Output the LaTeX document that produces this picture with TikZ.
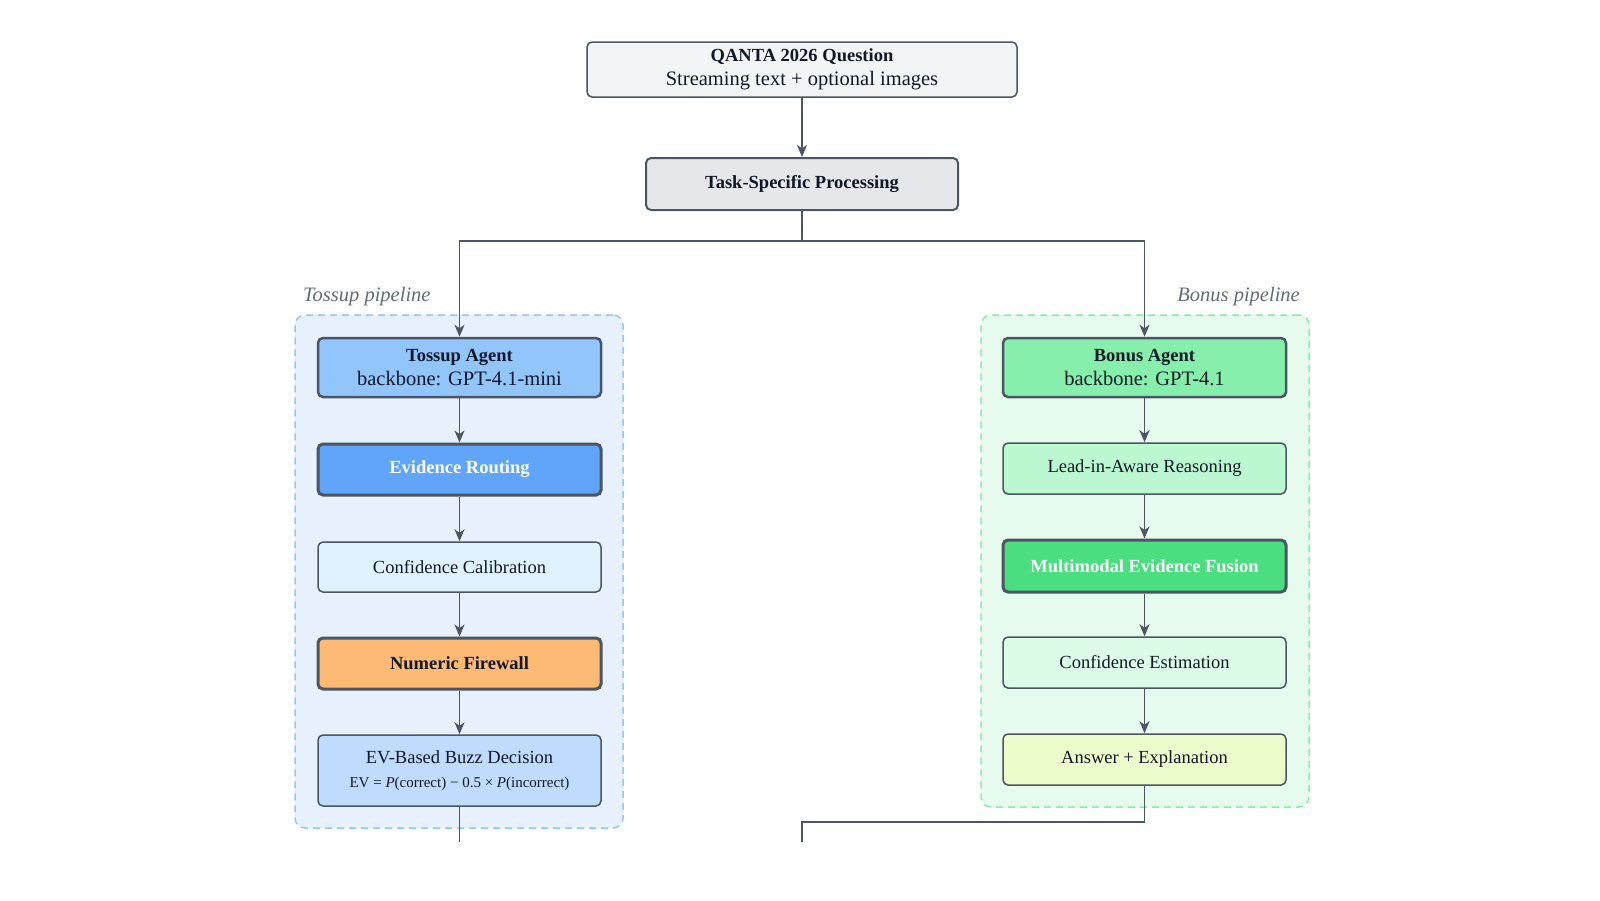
\documentclass[tikz,border=0pt]{standalone}
\usepackage{fontspec}
\setmainfont{Liberation Serif}
\usetikzlibrary{arrows.meta}
\definecolor{edgec}{HTML}{4B5563}
\definecolor{labc}{HTML}{636B76}
\definecolor{textc}{HTML}{111827}
\definecolor{qfill}{HTML}{F3F4F6}
\definecolor{tfill}{HTML}{E5E7EB}
\definecolor{tossbg}{HTML}{E7F0FD}
\definecolor{tossdash}{HTML}{93C5FD}
\definecolor{bonbg}{HTML}{E6FBEE}
\definecolor{bondash}{HTML}{86EFAC}
\definecolor{blueA}{HTML}{93C5FD}
\definecolor{blueB}{HTML}{60A5FA}
\definecolor{blueC}{HTML}{E0F2FE}
\definecolor{blueD}{HTML}{BFDBFE}
\definecolor{orangeA}{HTML}{FDBA74}
\definecolor{greenA}{HTML}{86EFAC}
\definecolor{greenB}{HTML}{BBF7D0}
\definecolor{greenC}{HTML}{4ADE80}
\definecolor{greenD}{HTML}{DCFCE7}
\definecolor{limeA}{HTML}{ECFCCB}
\begin{document}
\begin{tikzpicture}[x=1pt,y=-1pt,
  box/.style={draw=edgec, line width=1.5pt, rounded corners=5pt, minimum width=283pt,
    minimum height=50pt, align=center, text=textc, inner sep=2pt,
    font=\fontsize{18.5}{23.5}\selectfont},
  agentbox/.style={box, line width=2.5pt, minimum height=59pt},
  hotbox/.style={box, line width=3pt, text=white, font=\fontsize{18.5}{23.5}\selectfont\bfseries},
  container/.style={line width=1.5pt, dash pattern=on 7pt off 5pt, rounded corners=10pt, minimum width=328pt},
  plabel/.style={text=labc, font=\fontsize{20.5}{24}\selectfont\itshape, inner sep=0pt},
  conn/.style={draw=edgec, line width=1.6pt},
  arr/.style={conn, -{Stealth[length=12pt,width=10pt,inset=3.5pt]}}
]
\useasboundingbox (0,0) rectangle (1600,900);

% containers
\node[container, draw=tossdash, fill=tossbg, minimum height=513pt] (tosscont) at (459,571.5) {};
\node[container, draw=bondash, fill=bonbg, minimum height=492pt] (boncont) at (1145,561) {};
\node[plabel, anchor=base west] (tosslab) at (303,301) {Tossup pipeline};
\node[plabel, anchor=base east] (bonlab) at (1300,301) {Bonus pipeline};

% top
\node[box, fill=qfill, minimum width=430pt, minimum height=55pt] (q) at (802,69.5)
  {{\bfseries QANTA 2026 Question}\\{\fontsize{20.5}{23.5}\selectfont Streaming text + optional images}};
\node[box, line width=2pt, fill=tfill, minimum width=312pt, minimum height=52pt, font=\fontsize{18.5}{23.5}\selectfont\bfseries] (task) at (802,184) {Task-Specific Processing};

% tossup column
\node[agentbox, fill=blueA] (tagent) at (459.5,367.5)
  {{\bfseries Tossup Agent}\\{\fontsize{20.5}{23.5}\selectfont backbone: GPT-4.1-mini}};
\node[hotbox, fill=blueB, minimum height=51pt] (evr) at (459.5,469.5) {Evidence Routing};
\node[box, fill=blueC] (cal) at (459.5,567) {Confidence Calibration};
\node[hotbox, fill=orangeA, text=textc, minimum height=51pt] (fw) at (459.5,663.5) {Numeric Firewall};
\node[box, fill=blueD, minimum height=71pt, font=\fontsize{18.5}{22}\selectfont] (ev) at (459.5,770.5)
  {EV-Based Buzz Decision\\[2pt]{\fontsize{15}{18}\selectfont EV = \textit{P}(correct) − 0.5 × \textit{P}(incorrect)}};

% bonus column
\node[agentbox, fill=greenA] (bagent) at (1144.5,367.5)
  {{\bfseries Bonus Agent}\\{\fontsize{20.5}{23.5}\selectfont backbone: GPT-4.1}};
\node[box, fill=greenB, minimum height=51pt] (lead) at (1144.5,468.5) {Lead-in-Aware Reasoning};
\node[hotbox, fill=greenC, minimum height=52pt] (mm) at (1144.5,566) {Multimodal Evidence Fusion};
\node[box, fill=greenD, minimum height=51pt] (cest) at (1144.5,662.5) {Confidence Estimation};
\node[box, fill=limeA, minimum height=51pt] (ans) at (1144.5,759.5) {Answer + Explanation};

% connectors
\coordinate (split) at (802,241);
\coordinate (tend) at (459.5,842);
\coordinate (bturn) at (802,822);
\coordinate (bend) at (802,842);
\draw[arr] (q) -- (task);
\draw[conn] (task.south) -- (split);
\draw[arr] (split) -| (tagent.north);
\draw[arr] (split) -| (bagent.north);
\draw[arr] (tagent) -- (evr);
\draw[arr] (evr) -- (cal);
\draw[arr] (cal) -- (fw);
\draw[arr] (fw) -- (ev);
\draw[conn] (ev.south) -- (tend);
\draw[arr] (bagent) -- (lead);
\draw[arr] (lead) -- (mm);
\draw[arr] (mm) -- (cest);
\draw[arr] (cest) -- (ans);
\draw[conn] (ans.south) |- (bturn) -- (bend);
\end{tikzpicture}
\end{document}
